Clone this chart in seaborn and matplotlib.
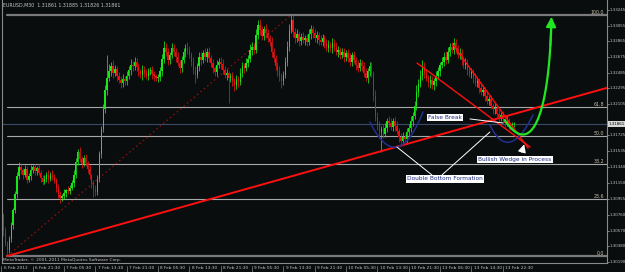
import numpy as np
import pandas as pd
import matplotlib
matplotlib.use("Agg")
import matplotlib.pyplot as plt
import seaborn as sns

# ---------------- data (prices as points above 1.30000, 5-digit quotes) ----------------
BASE = 1.30000
OPEN0 = 980
CLOSE = [
    760, 560, 420, 330, 470, 640, 820, 1010, 1230, 1340,
    1300, 1250, 1320, 1190, 1230, 1300, 1340, 1290, 1330, 1270,
    1210, 1160, 1200, 1240, 1200, 1250, 1220, 1180, 1090, 1000,
    960, 990, 1030, 1060, 1050, 1090, 1150, 1250, 1400, 1520,
    1440, 1380, 1450, 1390, 1320, 1240, 1150, 1080, 1040, 1200,
    1500, 1800, 2050, 2280, 2420, 2500, 2560, 2480, 2530, 2440,
    2400, 2360, 2410, 2380, 2450, 2520, 2580, 2560, 2620, 2550,
    2500, 2460, 2520, 2480, 2450, 2500, 2520, 2470, 2440, 2420,
    2430, 2500, 2650, 2790, 2730, 2640, 2700, 2780, 2740, 2680,
    2600, 2540, 2640, 2730, 2790, 2760, 2700, 2620, 2520, 2460,
    2560, 2680, 2640, 2720, 2680, 2740, 2660, 2600, 2540, 2490,
    2580, 2620, 2590, 2520, 2460, 2480, 2420, 2440, 2380, 2340,
    2410, 2370, 2480, 2560, 2540, 2600, 2650, 2760, 2800, 2760,
    2940, 3060, 3000, 2930, 3010, 2960, 2900, 2860, 2740, 2660,
    2560, 2500, 2440, 2390, 2460, 2620, 2800, 3000, 3120, 2980,
    2900, 2950, 2870, 2920, 2880, 2900, 2860, 2950, 3010, 2960,
    2900, 2940, 2880, 2860, 2900, 2840, 2790, 2820, 2780, 2850,
    2800, 2740, 2760, 2700, 2730, 2680, 2720, 2660, 2620, 2700,
    2640, 2580, 2540, 2600, 2560, 2480, 2420, 2500, 2560, 2470,
    2200, 1950, 1850, 1760, 1800, 1740, 1820, 1900, 1880, 1830,
    1900, 1840, 1780, 1700, 1660, 1700, 1680, 1760, 1820, 1900,
    1960, 2080, 2250, 2350, 2450, 2550, 2480, 2420, 2360, 2400,
    2330, 2380, 2450, 2500, 2580, 2620, 2680, 2640, 2740, 2800,
    2760, 2840, 2780, 2700, 2720, 2640, 2580, 2600, 2520, 2470,
    2490, 2420, 2360, 2380, 2300, 2250, 2270, 2200, 2140, 2160,
    2080, 2040, 2060, 1990, 1950, 1970, 1920, 1880, 1900, 1850,
    1830, 1861, 1861,
]
WICK_UP = [
    40, 30, 50, 20, 40, 30, 20, 40, 50, 60,
    40, 30, 50, 30, 40, 60, 30, 40, 20, 50,
    40, 30, 50, 40, 60, 30, 50, 40, 30, 40,
    50, 30, 40, 20, 50, 30, 40, 60, 50, 40,
    60, 30, 40, 50, 30, 40, 20, 30, 40, 50,
    30, 40, 50, 60, 280, 90, 60, 80, 50, 40,
    50, 40, 60, 30, 50, 40, 70, 50, 60, 40,
    50, 30, 60, 40, 50, 40, 30, 50, 40, 30,
    40, 50, 60, 80, 50, 60, 40, 70, 50, 40,
    60, 40, 50, 60, 40, 70, 50, 40, 60, 50,
    40, 60, 50, 40, 70, 50, 60, 40, 50, 30,
    60, 40, 50, 60, 40, 50, 30, 40, 50, 40,
    50, 40, 60, 50, 40, 60, 50, 70, 60, 50,
    80, 60, 70, 50, 40, 60, 50, 40, 60, 50,
    40, 50, 60, 40, 50, 60, 70, 80, 64, 60,
    50, 60, 40, 50, 60, 40, 50, 60, 50, 40,
    60, 50, 40, 60, 50, 40, 50, 60, 40, 50,
    40, 60, 50, 40, 50, 60, 40, 50, 60, 40,
    50, 40, 60, 50, 40, 50, 60, 40, 50, 60,
    40, 80, 60, 50, 40, 60, 50, 40, 60, 50,
    40, 50, 60, 40, 50, 60, 40, 50, 40, 60,
    50, 60, 80, 60, 70, 90, 60, 50, 40, 60,
    50, 40, 60, 50, 40, 60, 50, 70, 60, 50,
    60, 70, 50, 40, 60, 50, 40, 60, 50, 40,
    50, 40, 60, 50, 40, 50, 60, 40, 50, 40,
    50, 40, 60, 40, 50, 40, 50, 40, 60, 40,
    30, 24, 24,
]
WICK_DN = [
    40, 50, 30, 67, 30, 40, 50, 30, 40, 30,
    40, 50, 30, 40, 30, 40, 30, 50, 40, 30,
    50, 40, 30, 40, 50, 30, 40, 30, 50, 40,
    60, 30, 40, 50, 30, 40, 30, 50, 40, 30,
    40, 50, 30, 40, 50, 40, 60, 100, 50, 40,
    40, 50, 40, 50, 60, 40, 50, 60, 40, 50,
    40, 60, 50, 40, 50, 40, 60, 50, 40, 50,
    50, 40, 60, 50, 40, 50, 40, 60, 50, 40,
    50, 40, 60, 50, 40, 60, 50, 40, 50, 60,
    40, 60, 50, 40, 60, 50, 40, 60, 50, 100,
    40, 50, 60, 40, 50, 60, 40, 50, 60, 40,
    50, 40, 60, 50, 40, 60, 300, 50, 60, 80,
    50, 60, 40, 50, 60, 40, 50, 40, 60, 50,
    40, 50, 60, 40, 50, 60, 40, 50, 60, 50,
    40, 60, 50, 90, 50, 40, 60, 50, 40, 60,
    50, 40, 60, 50, 40, 60, 50, 40, 60, 50,
    40, 50, 60, 40, 50, 60, 40, 50, 40, 60,
    50, 40, 60, 50, 40, 60, 50, 40, 60, 50,
    40, 60, 50, 40, 60, 50, 40, 60, 50, 40,
    60, 50, 60, 70, 236, 50, 40, 60, 50, 40,
    50, 60, 40, 50, 60, 40, 50, 60, 40, 50,
    60, 40, 50, 60, 40, 50, 60, 40, 50, 60,
    40, 50, 60, 40, 50, 40, 60, 50, 40, 50,
    40, 50, 60, 40, 50, 60, 40, 50, 60, 40,
    50, 60, 40, 50, 60, 40, 50, 60, 40, 50,
    40, 60, 50, 40, 60, 50, 40, 50, 40, 50,
    40, 35, 35,
]

SYMBOL_TITLE = "EURUSD,M30  1.31861 1.31885 1.31826 1.31861"
COPYRIGHT = "MetaTrader, \u00a9 2001-2011 MetaQuotes Software Corp."
BID = 1.31861
PRICE_TICKS = [1.33245, 1.33055, 1.32865, 1.32675, 1.32485, 1.32295, 1.32105,
               1.31725, 1.31535, 1.31340, 1.31150, 1.30955, 1.30760, 1.30570,
               1.30380, 1.30190]
TIME_BARS = [0, 16, 32, 48, 64, 80, 96, 112, 128, 144, 160, 176, 192, 208, 224, 240, 256]
TIME_LABELS = ["6 Feb 2012", "6 Feb 21:30", "7 Feb 05:30", "7 Feb 13:30", "7 Feb 21:30",
               "8 Feb 05:30", "8 Feb 13:30", "8 Feb 21:30", "9 Feb 05:30", "9 Feb 13:30",
               "9 Feb 21:30", "10 Feb 05:30", "10 Feb 13:30", "10 Feb 21:30",
               "13 Feb 06:30", "13 Feb 14:30", "13 Feb 22:30"]

# Fibonacci retracement anchors (bar, price)
FIB_LOW_BAR, FIB_LOW = 3, 1.30263
FIB_HIGH_BAR, FIB_HIGH = 148, 1.33184
FIB_LEVELS = [0.0, 23.6, 38.2, 50.0, 61.8, 100.0]

# hand-drawn objects (bar, price)
TREND_LONG = [(3, 1.30263), (309, 1.32299)]
WEDGE_A = [(212.3, 1.32602), (270.0, 1.31584)]
WEDGE_B = [(230.7, 1.32821), (269.0, 1.31572)]
ARC1 = [(188.2, 1.31887), (202.0, 1.31584), (215.3, 1.32009)]
ARC2 = [(249.5, 1.31851), (259.8, 1.31645), (271.5, 1.31973)]
PROJ = [(257.0, 1.31912), (270.0, 1.31450), (280.0, 1.31900), (281.0, 1.33196)]
LABELS = [("False Break", 217.9, 1.31942),
          ("Bullish Wedge in Process", 243.4, 1.31433),
          ("Double Bottom Formation", 207.2, 1.31197)]
CALLOUTS = [((239.3, 1.31924), (256.2, 1.31875)),
            ((219.9, 1.31245), (202.0, 1.31584)),
            ((225.0, 1.31245), (249.5, 1.31766))]
WEDGE_ARROW = ((265.4, 1.31487), (267.4, 1.31649))

# ---------------- styling ----------------
BG = "#090d0e"
BULL = "#19e619"
BEAR = "#e61212"
GRID_TXT = "#c4c4c4"

sns.set_theme(style="dark", rc={"axes.facecolor": BG, "figure.facecolor": BG,
                                "savefig.facecolor": BG})
plt.rcParams["font.family"] = ["DejaVu Sans"]

fig = plt.figure(figsize=(6.25, 2.72), dpi=100)
ax = fig.add_axes([2 / 625, 9 / 272, 605 / 625, 263 / 272])
ax.set_facecolor(BG)
ax.set_xlim(0.3, 309.3)
ax.set_ylim(1.30178, 1.33366)
ax.set_xticks([])
ax.set_yticks([])
ax.grid(False)
for s in ["left", "bottom", "right"]:
    ax.spines[s].set_color("#8a8a8a")
    ax.spines[s].set_linewidth(0.8)
ax.spines["top"].set_visible(False)

# candles
close = BASE + np.array(CLOSE) / 1e5
opens = BASE + np.array([OPEN0] + CLOSE[:-1]) / 1e5
df = pd.DataFrame({"bar": np.arange(len(CLOSE)), "open": opens, "close": close})
df["high"] = np.maximum(df.open, df.close) + np.array(WICK_UP) / 1e5
df["low"] = np.minimum(df.open, df.close) - np.array(WICK_DN) / 1e5
df["up"] = df.close >= df.open
cols = np.where(df.up, BULL, BEAR)

# fib lines
rng = FIB_HIGH - FIB_LOW
for lv in FIB_LEVELS:
    p = FIB_LOW + rng * lv / 100
    thick = lv in (0.0, 100.0)
    ax.plot([FIB_LOW_BAR, 309.3], [p, p], color="#7a7a7a" if thick else "#a8a8a8",
            lw=1.6 if thick else 0.8, zorder=1)
    ax.text(0.995, p, f"{lv:.1f}", transform=ax.get_yaxis_transform(), ha="right",
            va="bottom", fontsize=3.4, color="#c8bfa8", zorder=6)
ax.axhline(BID, color="#3c4a6a", lw=0.8, zorder=1)

ax.vlines(df.bar, df.low, df.high, colors=cols, lw=0.55, zorder=3)
ax.bar(df.bar, df.close - df.open, bottom=df.open, width=0.7, color=cols,
       linewidth=0, zorder=3)

# trend lines
(x0, y0), (x1, y1) = TREND_LONG
ax.plot([x0, x1], [y0, y1], color="#ff1010", lw=1.4, zorder=4)
ax.plot([FIB_LOW_BAR, FIB_HIGH_BAR], [FIB_LOW, FIB_HIGH], color="#9a1010", lw=0.8,
        ls=(0, (1.5, 2.5)), zorder=2)
for seg in (WEDGE_A, WEDGE_B):
    ax.plot([seg[0][0], seg[1][0]], [seg[0][1], seg[1][1]], color="#ff1010", lw=1.0, zorder=4)

# blue arcs (quadratic curves through the three points)
t = np.linspace(0, 1, 60)
for arc in (ARC1, ARC2):
    p0, pm, p2 = [np.array(p) for p in arc]
    c = 2 * pm - 0.5 * (p0 + p2)
    pts = np.outer((1 - t) ** 2, p0) + np.outer(2 * (1 - t) * t, c) + np.outer(t ** 2, p2)
    ax.plot(pts[:, 0], pts[:, 1], color="#23308f", lw=1.1, zorder=5)

# green projection (cubic Bezier)
P = [np.array(p) for p in PROJ]
tt = np.linspace(0, 0.97, 80)
curve = (np.outer((1 - tt) ** 3, P[0]) + np.outer(3 * (1 - tt) ** 2 * tt, P[1]) +
         np.outer(3 * (1 - tt) * tt ** 2, P[2]) + np.outer(tt ** 3, P[3]))
proj = pd.DataFrame({"bar": curve[:, 0], "price": curve[:, 1]})
sns.lineplot(data=proj, x="bar", y="price", sort=False, color="#22e622", lw=1.6, ax=ax,
             zorder=6)
ax.annotate("", xy=tuple(P[3]), xytext=(curve[-8, 0], curve[-8, 1]),
            arrowprops=dict(arrowstyle="-|>,head_length=0.5,head_width=0.25",
                            color="#22e622", lw=1.4), zorder=6)
ax.set_xlabel("")
ax.set_ylabel("")

# callouts
for (a, b) in CALLOUTS:
    ax.plot([a[0], b[0]], [a[1], b[1]], color="white", lw=0.7, zorder=7)
ax.annotate("", xy=WEDGE_ARROW[1], xytext=WEDGE_ARROW[0],
            arrowprops=dict(arrowstyle="-|>,head_length=0.4,head_width=0.2",
                            color="white", lw=0.8), zorder=7)
for txt, bx, py in LABELS:
    ax.text(bx, py, txt, fontsize=4.2, color="#1d2a80", ha="left", va="center", zorder=8,
            bbox=dict(boxstyle="square,pad=0.25", fc="white", ec="none"))

# header / copyright
ax.text(1 / 605, 1 - 5 / 263, SYMBOL_TITLE, transform=ax.transAxes, fontsize=3.4,
        color=GRID_TXT, ha="left", va="center")
ax.text(1 / 605, 3.5 / 263, COPYRIGHT, transform=ax.transAxes, fontsize=3.2,
        color=GRID_TXT, ha="left", va="center")

# price axis
ytr = ax.get_yaxis_transform()
for p in PRICE_TICKS:
    ax.plot([1.0, 1.004], [p, p], transform=ytr, color="#8a8a8a", lw=0.6, clip_on=False)
    ax.text(1.005, p, f"{p:.5f}", transform=ytr, fontsize=2.9, color=GRID_TXT,
            ha="left", va="center", clip_on=False)
ax.text(1.003, BID, f"{BID:.5f}", transform=ytr, fontsize=2.9, color="black",
        ha="left", va="center", clip_on=False,
        bbox=dict(boxstyle="square,pad=0.25", fc="#d8d8d8", ec="none"))

# time axis
xtr = ax.get_xaxis_transform()
for b, lab in zip(TIME_BARS, TIME_LABELS):
    ax.plot([b, b], [-0.012, -0.035], transform=xtr, color="#8a8a8a", lw=0.5, clip_on=False)
    ax.text(b + 1.2, -0.02, lab, transform=xtr, fontsize=3.1, color=GRID_TXT,
            ha="left", va="center", clip_on=False)

fig.savefig("out.png", dpi=100, facecolor=BG)
